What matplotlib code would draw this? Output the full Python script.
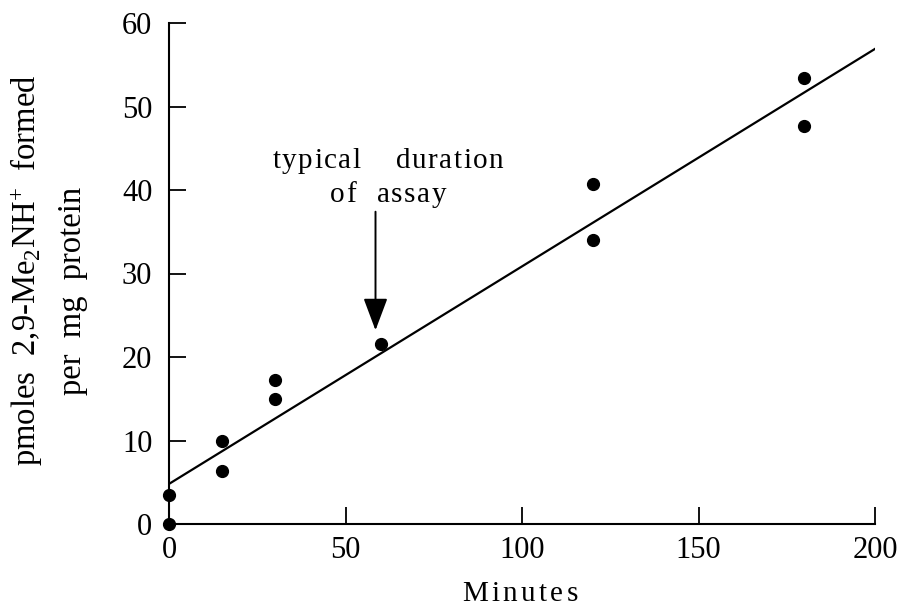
import matplotlib
matplotlib.use('Agg')
import matplotlib.pyplot as plt
from matplotlib.font_manager import FontProperties

plt.rcParams['font.family'] = ['Liberation Serif', 'DejaVu Serif']
plt.rcParams['mathtext.fontset'] = 'custom'
plt.rcParams['mathtext.rm'] = 'Liberation Serif'
plt.rcParams['mathtext.it'] = 'Liberation Serif:italic'

# Datos
minutos = [0, 0, 15, 15, 30, 30, 60, 120, 120, 180, 180]
pmoles = [0, 3.5, 10.0, 6.3, 17.3, 15.0, 21.6, 40.7, 34.0, 53.4, 47.7]
linea_x = [0, 200]
linea_y = [4.8, 56.9]
flecha_x = 58.5
flecha_y0, flecha_y1 = 37.4, 23.2
xticks = [0, 50, 100, 150, 200]
yticks = [0, 10, 20, 30, 40, 50, 60]

W, H = 902, 606
fig = plt.figure(figsize=(W / 100, H / 100), dpi=100)
ax = fig.add_axes([169 / W, 1 - 524 / H, 706 / W, 501 / H])


def texto_espaciado(x_px, y_px, texto, tamano, tracking, espacio):
    """Dibuja texto con espaciado entre letras (coordenadas en píxeles desde abajo)."""
    fp = FontProperties(family='Liberation Serif', size=tamano)
    renderer = fig.canvas.get_renderer()
    anchos = []
    for ch in texto:
        if ch == ' ':
            anchos.append(espacio)
        else:
            anchos.append(renderer.get_text_width_height_descent(ch, fp, ismath=False)[0])
    total = sum(anchos) + tracking * (len(texto) - 1)
    x = x_px - total / 2
    for ch, w in zip(texto, anchos):
        if ch != ' ':
            fig.text(x / W, y_px / H, ch, fontproperties=fp, ha='left', va='baseline')
        x += w + tracking


ax.plot(linea_x, linea_y, color='black', lw=1.6)
ax.plot(minutos, pmoles, 'o', color='black', ms=8.5, clip_on=False, zorder=5)

ax.annotate('', xy=(flecha_x, flecha_y1), xytext=(flecha_x, flecha_y0),
            arrowprops=dict(arrowstyle='-|>,head_length=20,head_width=7.5',
                            mutation_scale=1, shrinkA=0, shrinkB=0,
                            color='black', lw=1.4))

ax.set_xlim(0, 200)
ax.set_ylim(0, 60)
ax.set_xticks(xticks)
ax.set_yticks(yticks)
for lado in ['top', 'right']:
    ax.spines[lado].set_visible(False)
for lado in ['left', 'bottom']:
    ax.spines[lado].set_linewidth(1.5)
ax.tick_params(direction='in', length=12, width=1.3, labelsize=22)
ax.tick_params(axis='y', pad=12)
ax.tick_params(axis='x', pad=9)

# Texto de la anotación
p1 = ax.transData.transform((62.0, 42.6))
p2 = ax.transData.transform((62.0, 38.6))
texto_espaciado(p1[0], p1[1], 'typical duration', 21, 1.5, 32)
texto_espaciado(p2[0], p2[1], 'of assay', 21, 1.5, 18)

# Etiqueta del eje x
texto_espaciado(520, 5, 'Minutes', 21, 3.4, 6)

# Etiqueta del eje y (dos líneas)
fig.text(36 / W, 1 - 270 / H, 'pmoles  2,9-Me$_2$NH$^{+}$  formed', rotation=90,
         rotation_mode='anchor', ha='center', va='baseline', fontsize=23.5)
fig.text(81 / W, 1 - 291 / H, 'per  mg  protein', rotation=90,
         rotation_mode='anchor', ha='center', va='baseline', fontsize=23.5)

plt.savefig('out.png', dpi=100)
